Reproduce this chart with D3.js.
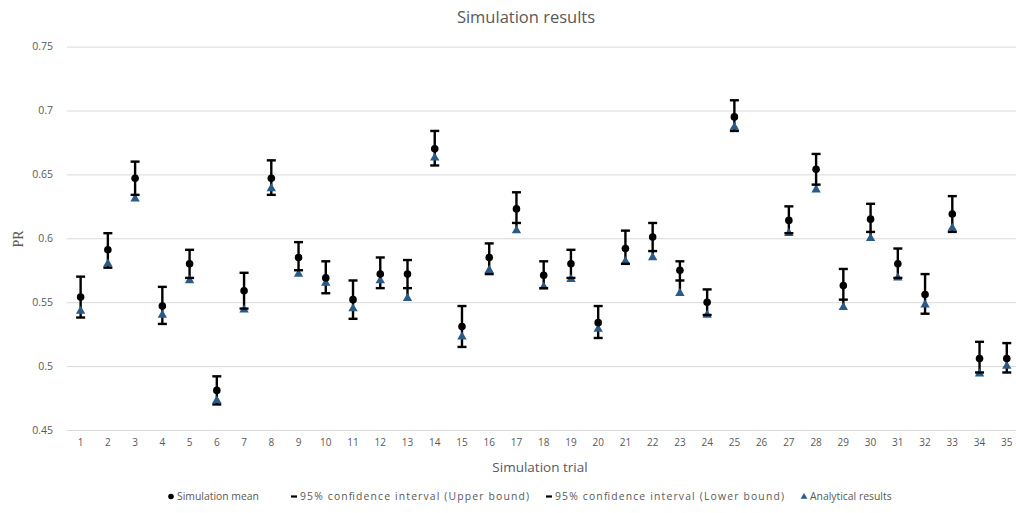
<!DOCTYPE html>
<html>
<head>
<meta charset="utf-8">
<script src="https://cdn.jsdelivr.net/npm/d3@7"></script>
<style>
  html, body { margin: 0; padding: 0; background: #fff; }
  svg { display: block; font-family: "Open Sans", "Noto Sans", sans-serif; }
</style>
</head>
<body>
<svg id="chart" width="1016" height="513"></svg>
<script>
// Trial numbers along the x axis
const trials = d3.range(1, 36);

// Simulation mean per trial (trial 26 has no result)
const simMean = [0.554, 0.591, 0.647, 0.547, 0.580, 0.481, 0.559, 0.647, 0.585, 0.569,
  0.552, 0.572, 0.572, 0.670, 0.531, 0.585, 0.623, 0.571, 0.580, 0.534,
  0.592, 0.601, 0.575, 0.550, 0.695, null, 0.614, 0.654, 0.563, 0.615,
  0.580, 0.556, 0.619, 0.506, 0.506];

// 95% confidence interval, upper bound
const upperBound = [0.570, 0.604, 0.660, 0.562, 0.591, 0.492, 0.573, 0.661, 0.597, 0.582,
  0.567, 0.585, 0.583, 0.684, 0.547, 0.596, 0.636, 0.582, 0.591, 0.547,
  0.606, 0.612, 0.582, 0.560, 0.708, null, 0.625, 0.666, 0.576, 0.627,
  0.592, 0.572, 0.633, 0.519, 0.518];

// 95% confidence interval, lower bound
const lowerBound = [0.538, 0.577, 0.634, 0.533, 0.569, 0.470, 0.545, 0.634, 0.575, 0.557,
  0.537, 0.561, 0.561, 0.657, 0.515, 0.572, 0.612, 0.561, 0.569, 0.522,
  0.580, 0.590, 0.567, 0.540, 0.684, null, 0.604, 0.642, 0.552, 0.605,
  0.569, 0.541, 0.605, 0.495, 0.495];

// Analytical results
const analytical = [0.543, 0.580, 0.631, 0.540, 0.567, 0.473, 0.544, 0.639, 0.572, 0.565,
  0.545, 0.567, 0.553, 0.663, 0.523, 0.575, 0.606, 0.562, 0.568, 0.529,
  0.582, 0.585, 0.557, 0.540, 0.687, null, 0.604, 0.638, 0.546, 0.600,
  0.569, 0.548, 0.608, 0.494, 0.500];

// Y axis ticks and their labels
const yTicks = [0.45, 0.5, 0.55, 0.6, 0.65, 0.7, 0.75];
const yTickLabels = ["0.45", "0.5", "0.55", "0.6", "0.65", "0.7", "0.75"];

const legendLabels = ["Simulation mean", "95% confidence interval (Upper bound)",
  "95% confidence interval (Lower bound)", "Analytical results"];

const textColor = "#595959";
const gridColor = "#d9d9d9";
const triColor = "#2a5b87";

const svg = d3.select("#chart");

const x = d3.scaleBand().domain(trials).range([67, 67 + 35 * 27.24]).padding(0);
const y = d3.scaleLinear().domain([0.45, 0.75]).range([430, 46.6]);
const cx = t => x(t) + x.bandwidth() / 2;

// Title
svg.append("text")
  .attr("x", 526).attr("y", 23)
  .attr("text-anchor", "middle")
  .attr("font-size", 16.5)
  .attr("fill", textColor)
  .text("Simulation results");

// Horizontal gridlines with tick labels
const yAxis = d3.axisLeft(y)
  .tickValues(yTicks)
  .tickFormat((d, i) => yTickLabels[i])
  .tickSize(-(1016 - 67))
  .tickPadding(14);

const gy = svg.append("g")
  .attr("transform", "translate(67,0)")
  .call(yAxis);
gy.select(".domain").remove();
gy.selectAll(".tick line").attr("stroke", gridColor).attr("stroke-width", 1);
gy.selectAll(".tick text")
  .attr("fill", textColor)
  .attr("font-size", 10.5)
  .attr("font-family", "\"Open Sans\", sans-serif");

// X axis labels
const xAxis = d3.axisBottom(x).tickSize(0).tickPadding(9);
const gx = svg.append("g")
  .attr("transform", "translate(0,430)")
  .call(xAxis);
gx.select(".domain").remove();
gx.selectAll(".tick text")
  .attr("fill", textColor)
  .attr("font-size", 10)
  .attr("font-family", "\"Open Sans\", sans-serif");

// Axis titles
svg.append("text")
  .attr("x", 540).attr("y", 472)
  .attr("text-anchor", "middle")
  .attr("font-size", 13.5)
  .attr("fill", textColor)
  .text("Simulation trial");

svg.append("text")
  .attr("transform", "translate(23,239) rotate(-90)")
  .attr("text-anchor", "middle")
  .attr("font-size", 14)
  .attr("font-family", "\"Liberation Serif\", serif")
  .attr("fill", textColor)
  .text("PR");

// Marks
const rows = trials.map((t, i) => ({
  t, mean: simMean[i], up: upperBound[i], lo: lowerBound[i], an: analytical[i]
})).filter(d => d.mean != null);

const marks = svg.append("g");

// Vertical span from the upper bound down to the lowest value of the trial
marks.selectAll("line.span").data(rows).join("line")
  .attr("class", "span")
  .attr("x1", d => cx(d.t)).attr("x2", d => cx(d.t))
  .attr("y1", d => y(d.up))
  .attr("y2", d => y(Math.min(d.lo, d.an)))
  .attr("stroke", "#000").attr("stroke-width", 2.4);

const tri = d3.symbol().type(d3.symbolTriangle).size(38);

marks.selectAll("path.an").data(rows).join("path")
  .attr("class", "an")
  .attr("d", tri)
  .attr("transform", d => `translate(${cx(d.t)},${y(d.an)})`)
  .attr("fill", triColor);

marks.selectAll("rect.up").data(rows).join("rect")
  .attr("class", "up")
  .attr("x", d => cx(d.t) - 4.5).attr("y", d => y(d.up) - 1.2)
  .attr("width", 9).attr("height", 2.4)
  .attr("fill", "#000");

marks.selectAll("rect.lo").data(rows).join("rect")
  .attr("class", "lo")
  .attr("x", d => cx(d.t) - 4.5).attr("y", d => y(d.lo) - 1.2)
  .attr("width", 9).attr("height", 2.4)
  .attr("fill", "#000");

marks.selectAll("circle.mean").data(rows).join("circle")
  .attr("class", "mean")
  .attr("cx", d => cx(d.t)).attr("cy", d => y(d.mean))
  .attr("r", 3.8)
  .attr("fill", "#000");

// Legend
const legendX = [168, 291, 546, 801];
const legendTextLen = [null, 229, 229, null];
const lg = svg.append("g").attr("transform", "translate(0,500)");
legendLabels.forEach((label, i) => {
  const g = lg.append("g").attr("transform", `translate(${legendX[i]},0)`);
  if (i === 0) {
    g.append("circle").attr("cx", 3).attr("cy", -3.5).attr("r", 2.8).attr("fill", "#000");
  } else if (i === 3) {
    g.append("path").attr("d", d3.symbol().type(d3.symbolTriangle).size(20))
      .attr("transform", "translate(3,-3.2)").attr("fill", triColor);
  } else {
    g.append("rect").attr("x", 0).attr("y", -4.6).attr("width", 6).attr("height", 2.2).attr("fill", "#000");
  }
  const t = g.append("text")
    .attr("x", 9).attr("y", 0)
    .attr("font-size", 10.4)
    .attr("fill", textColor)
    .text(label);
  if (legendTextLen[i]) t.attr("textLength", legendTextLen[i]).attr("lengthAdjust", "spacing");
});
</script>
</body>
</html>
